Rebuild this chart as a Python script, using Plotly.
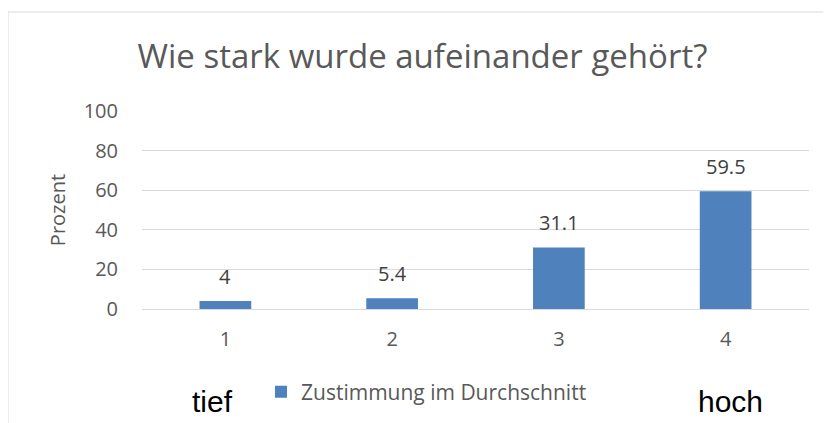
import plotly.graph_objects as go

categories = ["1", "2", "3", "4"]
values = [4, 5.4, 31.1, 59.5]
value_labels = ["4", "5.4", "31.1", "59.5"]
series_name = "Zustimmung im Durchschnitt"
title_text = "Wie stark wurde aufeinander gehört?"
y_title = "Prozent"
y_ticks = [0, 20, 40, 60, 80, 100]
low_label = "tief"
high_label = "hoch"

OFF = 8  # page body margin
W, H = 831 - OFF, 423 - OFF
L, R, T, B = 142 - OFF, 22, 111 - OFF, 114
pw, ph = W - L - R, H - T - B

def px_x(px):
    return (px - OFF - L) / pw

def px_y(py):
    return (H - B - (py - OFF)) / ph

FONT = "Open Sans"
GREY = "#595959"

fig = go.Figure()
fig.add_trace(go.Bar(
    x=categories, y=values, name=series_name,
    marker=dict(color="#4f81bd", line=dict(width=0)),
    showlegend=True,
))

for i, (v, t) in enumerate(zip(values, value_labels)):
    fig.add_annotation(x=i, y=v, text=t, showarrow=False, yanchor="bottom",
                       yshift=9, font=dict(family=FONT, size=20, color="#404040"))

fig.add_annotation(xref="paper", yref="paper", x=px_x(212.5), y=px_y(401),
                   text=low_label, showarrow=False, xanchor="center", yanchor="middle",
                   font=dict(family="Liberation Sans, Arial", size=30, color="#000000"))
fig.add_annotation(xref="paper", yref="paper", x=px_x(730), y=px_y(401),
                   text=high_label, showarrow=False, xanchor="center", yanchor="middle",
                   font=dict(family="Liberation Sans, Arial", size=30, color="#000000"))

fig.add_shape(type="rect", xref="paper", yref="paper",
              x0=px_x(8), x1=px_x(840), y0=px_y(440), y1=px_y(12),
              line=dict(color="#d9d9d9", width=1), fillcolor="rgba(0,0,0,0)", layer="below")

fig.update_layout(
    width=W, height=H,
    margin=dict(l=L, r=R, t=T, b=B, autoexpand=False),
    paper_bgcolor="white", plot_bgcolor="white",
    bargap=0.69,
    title=dict(text=title_text, xref="container", yref="container",
               x=(422.5 - OFF) / W, y=1 - (56 - OFF) / H, xanchor="center", yanchor="middle",
               font=dict(family=FONT, size=33, color=GREY)),
    legend=dict(orientation="h", x=px_x(261), y=px_y(392), xanchor="left", yanchor="middle",
                font=dict(family=FONT, size=21, color=GREY), bgcolor="rgba(0,0,0,0)"),
    xaxis=dict(type="category", showgrid=False, showline=False, ticks="",
               tickfont=dict(family=FONT, size=20, color=GREY), ticklabelstandoff=16),
    yaxis=dict(range=[0, 100], tickvals=y_ticks, showgrid=True, gridcolor="#d9d9d9", gridwidth=1,
               zeroline=True, zerolinecolor="#d9d9d9", zerolinewidth=1, showline=False, ticks="",
               tickfont=dict(family=FONT, size=20, color=GREY), ticklabelstandoff=23,
               title=dict(text=y_title, standoff=12, font=dict(family=FONT, size=20, color=GREY))),
)

fig.write_html("out.html")
